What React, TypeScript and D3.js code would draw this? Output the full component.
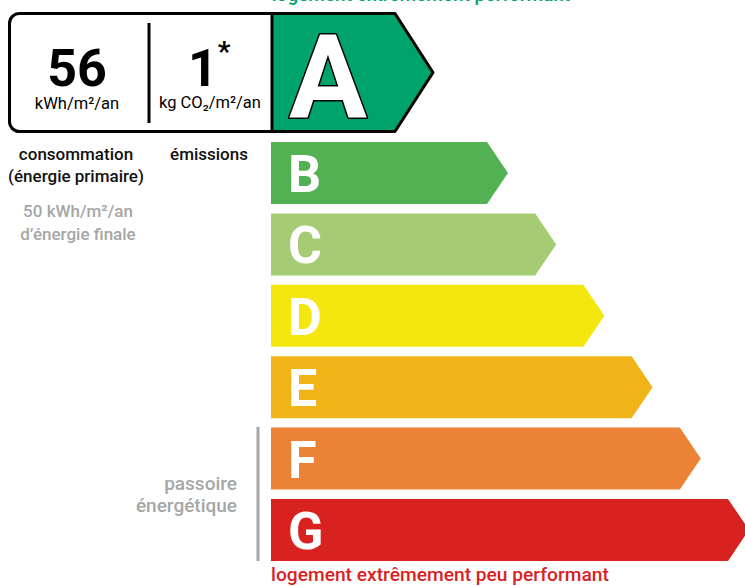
import * as d3 from 'd3';

const classes = ['A', 'B', 'C', 'D', 'E', 'F', 'G'];
const classColors = ['#00A36C', '#52B153', '#A5CC74', '#F4E70F', '#F0B418', '#EC8235', '#D7221F'];
const rank = 0; // logement classé A
const consumption = '56';
const emissions = '1';
const finalEnergy = '50 kWh/m²/an';

const W = 745;
const H = 586;
const FONT = 'Roboto, "Open Sans", sans-serif';

export default function App() {
  // rows for B..G
  const y = d3.scaleBand<string>().domain(classes.slice(1)).range([142, 561]).paddingInner(0.13);
  // tip position grows with the class index
  const tipX = d3.scaleLinear().domain([1, 6]).range([508, 749]);
  const x0 = 271;
  const notch = 21;

  const arrow = (x1: number, y1: number, tip: number, h: number) => {
    const p = d3.path();
    p.moveTo(x1, y1);
    p.lineTo(tip - notch, y1);
    p.lineTo(tip, y1 + h / 2);
    p.lineTo(tip - notch, y1 + h);
    p.lineTo(x1, y1 + h);
    p.closePath();
    return p.toString();
  };

  // header box with the active class A
  const boxTop = 13.5;
  const boxBot = 131.5;
  const aTip = 433;
  const aPath = d3.path();
  aPath.moveTo(272, boxTop);
  aPath.lineTo(aTip - 38, boxTop);
  aPath.lineTo(aTip, (boxTop + boxBot) / 2);
  aPath.lineTo(aTip - 38, boxBot);
  aPath.lineTo(272, boxBot);
  aPath.closePath();

  return (
    <svg width={W} height={H} style={{ position: 'absolute', left: 0, top: 0 }} fontFamily={FONT}>
      <text x={421} y={1} textAnchor="middle" fontSize={19} fontWeight={500} fill="#00A36C">
        logement extrêmement performant
      </text>

      {/* white card */}
      <rect x={9.5} y={boxTop} width={300} height={boxBot - boxTop} rx={10} fill="#fff" stroke="#000" strokeWidth={3} />
      <path d={aPath.toString()} fill={classColors[rank]} stroke="#000" strokeWidth={3} strokeLinejoin="round" />
      <line x1={149} x2={149} y1={23} y2={123} stroke="#000" strokeWidth={3} />

      <text x={77} y={86} textAnchor="middle" fontSize={52} fontWeight={700} fill="#000">{consumption}</text>
      <text x={77} y={109} textAnchor="middle" fontSize={16.5} fill="#000">kWh/m²/an</text>

      <text x={203} y={86} textAnchor="middle" fontSize={52} fontWeight={700} fill="#000">{emissions}</text>
      <text x={224} y={61} textAnchor="middle" fontSize={28} fontWeight={700} fill="#000">*</text>
      <text x={210} y={108} textAnchor="middle" fontSize={16.5} fill="#000">kg CO₂/m²/an</text>

      <text
        x={328}
        y={118}
        textAnchor="middle"
        fontSize={116}
        fontWeight={700}
        fill="#fff"
        stroke="#000"
        strokeWidth={3}
        strokeLinejoin="round"
        paintOrder="stroke"
      >
        {classes[rank]}
      </text>

      {/* scale B..G */}
      {classes.slice(1).map((c, i) => {
        const yy = y(c) as number;
        const h = y.bandwidth();
        return (
          <g key={c}>
            <path d={arrow(x0, yy, tipX(i + 1), h)} fill={classColors[i + 1]} />
            <text x={288} y={yy + h / 2 + 19} fontSize={52} fontWeight={700} fill="#fff">{c}</text>
          </g>
        );
      })}

      {/* left labels */}
      <text x={76} y={160} textAnchor="middle" fontSize={17} fontWeight={500} fill="#111">consommation</text>
      <text x={76} y={182} textAnchor="middle" fontSize={17} fontWeight={500} fill="#111">(énergie primaire)</text>
      <text x={209} y={160} textAnchor="middle" fontSize={17} fontWeight={500} fill="#111">émissions</text>
      <text x={78} y={217} textAnchor="middle" fontSize={17} fontWeight={500} fill="#a6a6a6">{finalEnergy}</text>
      <text x={78} y={240} textAnchor="middle" fontSize={17} fontWeight={500} fill="#a6a6a6">d’énergie finale</text>

      <line x1={258} x2={258} y1={427} y2={561} stroke="#a6a6a6" strokeWidth={3} />
      <text x={237} y={490} textAnchor="end" fontSize={19} fontWeight={500} fill="#a6a6a6">passoire</text>
      <text x={237} y={512} textAnchor="end" fontSize={19} fontWeight={500} fill="#a6a6a6">énergétique</text>

      <text x={271} y={581} fontSize={19.2} fontWeight={500} fill="#D7221F">logement extrêmement peu performant</text>
    </svg>
  );
}
